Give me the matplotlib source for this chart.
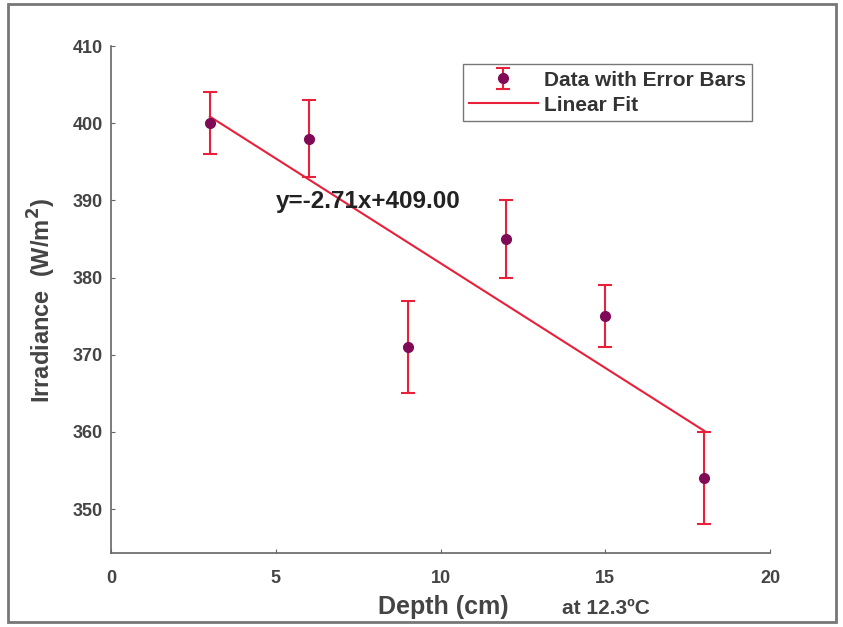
import matplotlib.pyplot as plt
import numpy as np
from matplotlib.patches import Rectangle

plt.rcParams['font.family'] = ['Liberation Sans', 'DejaVu Sans']
plt.rcParams['font.weight'] = 'bold'

depth = np.array([3, 6, 9, 12, 15, 18])
irradiance = np.array([400, 398, 371, 385, 375, 354])
err = np.array([4, 5, 6, 5, 4, 6])

# linear fit
slope, intercept = np.polyfit(depth, irradiance, 1)
fit_y = slope * depth + intercept

fig = plt.figure(figsize=(8.43, 6.27), dpi=100)
ax = fig.add_axes([0.1317, 0.118, 0.7817, 0.8086])

eb = ax.errorbar(depth, irradiance, yerr=err, fmt='o', color='#800a55',
                 ecolor='#e8203a', elinewidth=1.5, capsize=5, capthick=1.5,
                 markersize=7, label='Data with Error Bars', zorder=3)
ln, = ax.plot(depth, fit_y, color='#e8203a', linewidth=1.5, label='Linear Fit', zorder=2)

ax.text(5.0, 389.8, 'y=%.2fx+%.2f' % (slope, intercept), fontsize=17.5,
        fontweight='bold', color='#222222', va='center')

ax.set_xlim(0, 20)
ax.set_ylim(344.3, 410)
ax.set_xticks([0, 5, 10, 15, 20])
ax.set_yticks(np.arange(350, 411, 10))

ax.spines['right'].set_color('none')
ax.spines['top'].set_color('none')
for s in ['left', 'bottom']:
    ax.spines[s].set_color('#666666')
    ax.spines[s].set_linewidth(1.2)
ax.tick_params(direction='in', length=3, colors='#666666', labelcolor='#444444',
               labelsize=13)
ax.tick_params(axis='x', pad=12)
ax.tick_params(axis='y', pad=6)
for label in ax.get_xticklabels() + ax.get_yticklabels():
    label.set_fontweight('bold')

# axis titles
fig.text(0.5255, 0.032, 'Depth (cm)', fontsize=18, fontweight='bold', color='#444444',
         ha='center', va='center')
fig.text(0.719, 0.030, 'at 12.3ºC', fontsize=15, fontweight='bold', color='#444444',
         ha='center', va='center')
fig.text(0.05, 0.52, 'Irradiance  (W/m$^\\mathbf{2}$)', fontsize=17, fontweight='bold',
         color='#444444', rotation=90, ha='center', va='center')

leg = ax.legend(handles=[eb, ln], labels=['Data with Error Bars', 'Linear Fit'],
                loc='upper right', bbox_to_anchor=(0.973, 0.964), borderaxespad=0,
                fontsize=15, frameon=True, fancybox=False, edgecolor='#555555',
                borderpad=0.3, labelspacing=0.3, handlelength=3.3, handletextpad=0.3)
for t in leg.get_texts():
    t.set_fontweight('bold')
    t.set_color('#333333')

# frame around the whole figure
fig.patches.append(Rectangle((0.009, 0.008), 0.983, 0.985, transform=fig.transFigure,
                             fill=False, edgecolor='#777777', linewidth=2))

fig.savefig('out.png', dpi=100)
